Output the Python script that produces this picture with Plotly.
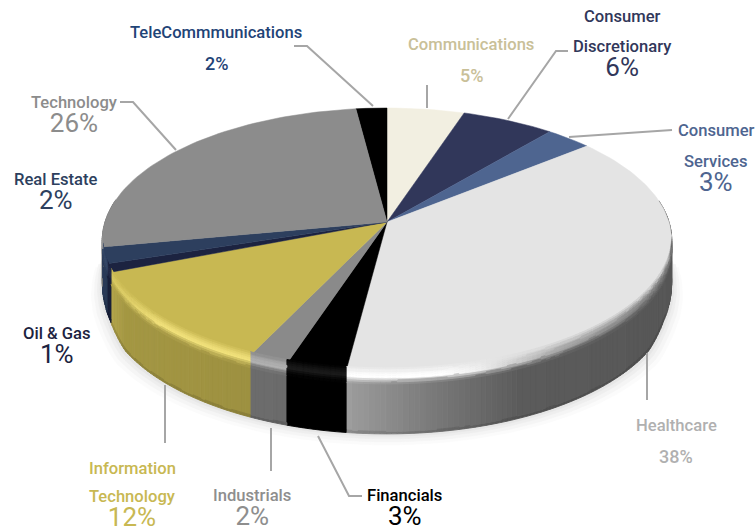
import numpy as np
import plotly.graph_objects as go

# ---- data ----
categories = ["Communications", "Consumer Discretionary", "Consumer Services", "Healthcare",
              "Financials", "Industrials", "Information Technology", "Oil & Gas",
              "Real Estate", "Technology", "TeleCommmunications"]
values = [5, 6, 3, 38, 3, 2, 12, 1, 2, 26, 2]

# ---- styles ----
slice_colors = ["#F2EFE1", "#31375A", "#4E6590", "#E4E4E4", "#000000", "#8A8A8A",
                "#C8B852", "#1C2340", "#2D3F5E", "#8C8C8C", "#000000"]

CX, CY = 387.0, 222.0
A, B, K = 282.0, 129.5, 0.136


def project(t):
    """Perspective projection of a point of the unit circle, t clockwise from 12 o'clock."""
    u, v = np.sin(t), np.cos(t)
    d = 1 + K * v
    return CX + A * u / d, CY - B * v / d


def wall_h(t):
    return np.interp(-np.cos(t), [-0.3, 0, 0.36, 0.5, 1], [30, 40, 50, 59, 62])


def rgb(c):
    return np.array([int(c[i:i + 2], 16) for i in (1, 3, 5)], float)


def hexc(a):
    a = np.clip(np.round(a), 0, 255).astype(int)
    return "#%02x%02x%02x" % tuple(a)


def hi_add(x, base):
    lum = base.mean() / 255
    return np.interp(x, [100, 160, 400, 480, 560, 680], [12, 45, 45, 10, -60, -110]) * (0.6 + 0.5 * lum)


def shade(x):
    return np.interp(x, [100, 125, 340, 350, 440, 520, 700], [0.95, 0.82, 0.76, 0.68, 0.52, 0.40, 0.38])


layers = {"shadow": {}, "wall": {}, "top": {}, "bevel": {}}


def add_poly(layer, color, xs, ys):
    g = layers[layer].setdefault(color, ([], []))
    g[0].extend(list(xs) + [xs[0], None])
    g[1].extend(list(ys) + [ys[0], None])


fracs = np.array(values, float) / sum(values)
edges = np.concatenate([[0], np.cumsum(fracs)]) * 2 * np.pi
RIGHT_X, LEFT_X = np.arccos(-K), 2 * np.pi - np.arccos(-K)

# shadow
arc = np.radians(np.linspace(88, 272, 120))
px, py = project(arc)
py = py + wall_h(arc)
for g, col in zip([11, 8, 5, 2.5], ["#fbfbfb", "#f5f5f5", "#eeeeee", "#e6e6e6"]):
    add_poly("shadow", col, CX + (px - CX) * (1 + g / 285), py + g)

# offsets (px below the rim) and blend position for the rim bands
rim = [(-4, -2, 0.2), (-2, 0, 0.45), (0, 2, 0.7), (2, 4, 0.9), (4, 6, 1.0), (6, 8, 1.35), (8, 10, 1.65), (10, 12, 1.9)]

for i, base_hex in enumerate(slice_colors):
    t0, t1 = edges[i], edges[i + 1]
    base = rgb(base_hex)
    # top face
    tt = np.linspace(t0, t1, max(4, int((t1 - t0) / np.radians(1.5))))
    ax, ay = project(tt)
    add_poly("top", base_hex, [CX] + list(ax), [CY] + list(ay))
    # walls and rim
    n = max(2, int((t1 - t0) / np.radians(1.0)) + 1)
    ts = np.linspace(t0, t1, n + 1)
    for a, b in zip(ts[:-1], ts[1:]):
        m = (a + b) / 2
        if not (np.radians(80) < m < np.radians(280)):
            continue
        xa, ya = project(a)
        xb, yb = project(b)
        xm = (xa + xb) / 2
        hi = np.clip(base + hi_add(xm, base), 0, 255)
        low = base * shade(xm)
        ha, hb = wall_h(a), wall_h(b)
        add_poly("wall", hexc(low), [xa, xb, xb, xa], [ya, yb, yb + hb - 2.5, ya + ha - 2.5])
        add_poly("wall", hexc(low * 0.88), [xa, xb, xb, xa],
                 [ya + ha - 2.5, yb + hb - 2.5, yb + hb, ya + ha])
        if RIGHT_X < m < LEFT_X:
            for d0, d1, w in rim:
                if w <= 1:
                    col = base + (hi - base) * w
                else:
                    col = hi + (low - hi) * (w - 1)
                add_poly("bevel", hexc(col), [xa, xb, xb, xa], [ya + d0, yb + d0, yb + d1, ya + d1])

fig = go.Figure()
for name in ["shadow", "wall", "top", "bevel"]:
    for col, (xs, ys) in layers[name].items():
        fig.add_trace(go.Scatter(x=xs, y=ys, mode="lines", fill="toself", fillcolor=col,
                                 line=dict(color=col, width=0.9 if name in ("wall", "bevel") else 0.5),
                                 hoverinfo="skip", showlegend=False))

# leader lines
leaders = [
    [(294, 46), (307, 46), (373, 106)],
    [(427, 85), (427, 108)],
    [(508, 119), (556, 51), (568, 51)],
    [(569, 137), (672, 130)],
    [(647, 353), (647, 400)],
    [(318, 436), (349, 496), (362, 496)],
    [(271, 428), (271, 471)],
    [(165, 385), (165, 443)],
    [(120, 102), (133, 102), (176, 150)],
]
for pts in leaders:
    fig.add_trace(go.Scatter(x=[p[0] for p in pts], y=[p[1] for p in pts], mode="lines",
                             line=dict(color="#A6A6A6", width=2), hoverinfo="skip", showlegend=False))

NAME, BIG, SMALL, STACK = 16.6, 26, 18, 18.5


def big(name, pct):
    return (f'<span style="font-size:{NAME}px">{name}</span><br>'
            f'<span style="font-size:{BIG}px;font-weight:400">{pct}</span>')


label_rows = [
    ("TeleCommmunications", 216, 32, NAME, "#1F4477"), ("2%", 216, 63, SMALL, "#1F4477"),
    ("Communications", 471, 44, NAME, "#C9C098"), ("5%", 471, 75, SMALL, "#C9C098"),
    ("Consumer", 622, 16, NAME, "#31375A"), (big("Discretionary", "6%"), 622, 59.5, STACK, "#31375A"),
    ("Consumer", 716, 130, NAME, "#4E6590"), (big("Services", "3%"), 716, 174.5, STACK, "#4E6590"),
    ("Healthcare", 676, 425, NAME, "#B0B0B0"), ("38%", 676, 456, SMALL, "#B0B0B0"),
    (big("Financials", "3%"), 404, 508.5, STACK, "#000000"),
    (big("Industrials", "2%"), 252, 508.5, STACK, "#8E8E8E"),
    ("Information", 132, 468, NAME, "#C8B852"), (big("Technology", "12%"), 132, 509, STACK, "#C8B852"),
    (big("Oil &amp; Gas", "1%"), 57, 346.5, STACK, "#1C2340"),
    (big("Real Estate", "2%"), 56, 192.5, STACK, "#2D3F5E"),
    (big("Technology", "26%"), 74, 115, STACK, "#8C8C8C"),
]
annotations = [dict(x=x, y=y, text=t, showarrow=False, xanchor="center", yanchor="middle",
                    font=dict(family="Roboto", size=s, color=c, weight=500))
               for t, x, y, s, c in label_rows]

fig.update_layout(
    width=755, height=531, margin=dict(l=0, r=0, t=0, b=0),
    paper_bgcolor="white", plot_bgcolor="white", annotations=annotations,
    xaxis=dict(range=[0, 755], visible=False, fixedrange=True),
    yaxis=dict(range=[531, 0], visible=False, fixedrange=True),
)
fig.write_html("out.html", config=dict(displayModeBar=False),
               post_script="document.body.style.margin='0';document.documentElement.style.overflow='hidden';")
